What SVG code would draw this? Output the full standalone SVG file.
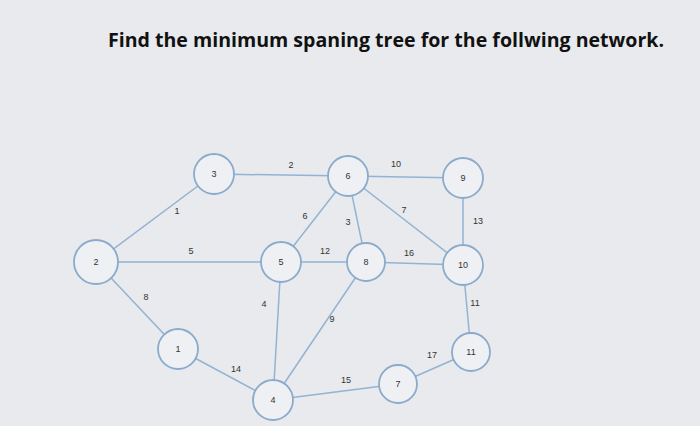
<svg xmlns="http://www.w3.org/2000/svg" width="700" height="426" viewBox="0 0 700 426">
<style>
.e{stroke:#93b3d3;stroke-width:1.5;fill:none}
.n circle{fill:#eef0f3;stroke:#8aabcc;stroke-width:1.8}
.n text{font-family:"Liberation Sans",sans-serif;font-size:9px;fill:#333;text-anchor:middle}
.l{font-family:"Liberation Sans",sans-serif;font-size:9px;fill:#333;text-anchor:middle}
.t{font-family:"Open Sans","Liberation Sans",sans-serif;font-size:19.5px;font-weight:bold;fill:#111}
</style>
<rect width="700" height="426" fill="#e8eaed"/>
<text class="t" x="108" y="47" textLength="556" lengthAdjust="spacingAndGlyphs">Find the minimum spaning tree for the follwing network.</text>
<g id="connectors">
<line class="e" x1="96" y1="262" x2="214" y2="174"/>
<line class="e" x1="214" y1="174" x2="348" y2="176"/>
<line class="e" x1="348" y1="176" x2="463" y2="178"/>
<line class="e" x1="348" y1="176" x2="281" y2="262"/>
<line class="e" x1="348" y1="176" x2="366" y2="262"/>
<line class="e" x1="348" y1="176" x2="463" y2="265"/>
<line class="e" x1="463" y1="178" x2="463" y2="265"/>
<line class="e" x1="96" y1="262" x2="281" y2="262"/>
<line class="e" x1="281" y1="262" x2="366" y2="262"/>
<line class="e" x1="366" y1="262" x2="463" y2="265"/>
<line class="e" x1="96" y1="262" x2="178" y2="349"/>
<line class="e" x1="281" y1="262" x2="273" y2="400"/>
<line class="e" x1="366" y1="262" x2="273" y2="400"/>
<line class="e" x1="178" y1="349" x2="273" y2="400"/>
<line class="e" x1="273" y1="400" x2="398" y2="384"/>
<line class="e" x1="398" y1="384" x2="471" y2="352"/>
<line class="e" x1="463" y1="265" x2="471" y2="352"/>
<text class="l" x="177" y="214">1</text>
<text class="l" x="291" y="168">2</text>
<text class="l" x="396" y="167">10</text>
<text class="l" x="305" y="219">6</text>
<text class="l" x="348" y="225">3</text>
<text class="l" x="404" y="213">7</text>
<text class="l" x="478" y="224">13</text>
<text class="l" x="191" y="254">5</text>
<text class="l" x="325" y="254">12</text>
<text class="l" x="409" y="256">16</text>
<text class="l" x="146" y="300">8</text>
<text class="l" x="264" y="307">4</text>
<text class="l" x="332" y="322">9</text>
<text class="l" x="475" y="306">11</text>
<text class="l" x="236" y="372">14</text>
<text class="l" x="346" y="383">15</text>
<text class="l" x="432" y="358">17</text>
</g>
<g id="n2" class="n"><circle cx="96" cy="262" r="22"/><text x="96" y="265">2</text></g>
<g id="n3" class="n"><circle cx="214" cy="174" r="20"/><text x="214" y="177">3</text></g>
<g id="n6" class="n"><circle cx="348" cy="176" r="20"/><text x="348" y="179">6</text></g>
<g id="n9" class="n"><circle cx="463" cy="178" r="20"/><text x="463" y="181">9</text></g>
<g id="n5" class="n"><circle cx="281" cy="262" r="20"/><text x="281" y="265">5</text></g>
<g id="n8" class="n"><circle cx="366" cy="262" r="19"/><text x="366" y="265">8</text></g>
<g id="n10" class="n"><circle cx="463" cy="265" r="20"/><text x="463" y="268">10</text></g>
<g id="n1" class="n"><circle cx="178" cy="349" r="20"/><text x="178" y="352">1</text></g>
<g id="n4" class="n"><circle cx="273" cy="400" r="20"/><text x="273" y="403">4</text></g>
<g id="n7" class="n"><circle cx="398" cy="384" r="19"/><text x="398" y="387">7</text></g>
<g id="n11" class="n"><circle cx="471" cy="352" r="19"/><text x="471" y="355">11</text></g>
</svg>
